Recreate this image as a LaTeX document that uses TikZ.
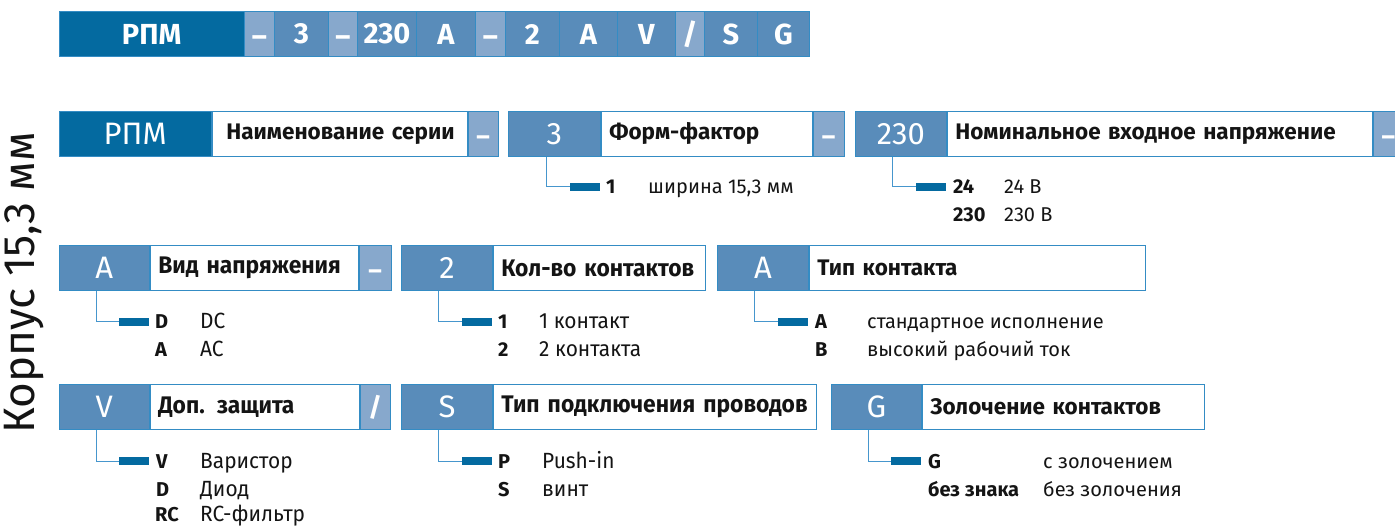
\documentclass[tikz,border=0pt]{standalone}
\usepackage{fontspec}
\setmainfont{Fira Sans}
\newfontfamily\narrowfont[FakeStretch=0.95]{Fira Sans}
\usetikzlibrary{positioning}
\definecolor{rpmblue}{RGB}{4,106,160}
\definecolor{codeblue}{RGB}{89,140,186}
\definecolor{dashblue}{RGB}{135,168,204}
\definecolor{frameblue}{RGB}{52,140,196}
\definecolor{linkblue}{RGB}{70,150,205}
\definecolor{ink}{RGB}{20,20,20}
\newcommand{\lowdash}{\raisebox{-12pt}[0pt][0pt]{–}}
\begin{document}
\begin{tikzpicture}[x=1pt, y=-1pt,
			box/.style={rectangle, draw=frameblue, line width=0.9pt, inner sep=0pt, minimum height=45pt, anchor=north west},
			topbox/.style={box, minimum height=45.5pt, text=white, font=\fontsize{29}{31}\selectfont\bfseries},
			codebox/.style={box, fill=codeblue, text=white, font=\fontsize{31}{33}\selectfont},
			dashbox/.style={box, fill=dashblue, text=white, font=\fontsize{26}{28}\selectfont\bfseries},
			labelbox/.style={box, fill=white, text=ink, inner xsep=8pt, align=left, font=\fontsize{22.5}{26}\selectfont\bfseries},
			narrowlabel/.style={labelbox, font=\fontsize{24}{26}\narrowfont\bfseries},
			keybar/.style={rectangle, fill=rpmblue, minimum width=30pt, minimum height=8pt, inner sep=0pt, anchor=east},
			link/.style={draw=linkblue, line width=1pt},
			key/.style={anchor=base west, inner sep=0pt, text=ink, font=\fontsize{20}{24}\selectfont\bfseries},
			desc/.style={anchor=base west, inner sep=0pt, text=ink, font=\fontsize{20}{24}\selectfont},
			narrowdesc/.style={desc, font=\fontsize{22}{24}\narrowfont},
		]
		\useasboundingbox (0,0) rectangle (1395,526);
		% code line on top
		\foreach \txt/\xa/\xb/\col [count=\i] in {РПМ/58.5/244/rpmblue, \lowdash/244/274/dashblue, 3/274/328/codeblue, \lowdash/328/357/dashblue, 230/357/416/codeblue, A/416/475/codeblue, \lowdash/475/505/dashblue, 2/505/559/codeblue, A/559/617/codeblue, V/617/675/codeblue, {/}/675/704/dashblue, S/704/757/codeblue, G/757/809/codeblue}
			\node[topbox, fill=\col, minimum width={(\xb-\xa)*1pt}] (top\i) at (\xa,11) {\txt};
		% side text
		\node[rotate=90, text=ink, font=\fontsize{44}{46}\selectfont] (side) at (24,283) {Корпус 15,3 мм};
		% row 1
		\node[codebox, fill=rpmblue, minimum width=152.5pt] (crpm) at (58.5,111) {РПМ};
		\node[labelbox, text width=239pt, right=0pt of crpm] (lrpm) {\hspace*{6pt}Наименование серии};
		\node[dashbox, minimum width=30pt, right=0pt of lrpm] (drpm) {\lowdash};
		\node[codebox, minimum width=92pt] (cform) at (508,111) {3};
		\node[labelbox, text width=195pt, right=0pt of cform] (lform) {Форм-фактор};
		\node[dashbox, minimum width=31pt, right=0pt of lform] (dform) {\lowdash};
		\node[codebox, minimum width=91pt] (cvolt) at (855,111) {230};
		\node[labelbox, text width=409pt, right=0pt of cvolt] (lvolt) {Номинальное входное напряжение};
		\node[dashbox, minimum width=30pt, right=0pt of lvolt] (dvolt) {\lowdash};
		\node[keybar] (bform) at (600,187) {};
		\draw[link] ([xshift=-8pt]cform.south) |- (bform.west);
		\node[key] (kform1) at (606,194) {1};
		\node[desc] (tform1) at (648,194) {ширина 15,3 мм};
		\node[keybar] (bvolt) at (946,187) {};
		\draw[link] ([xshift=-8pt]cvolt.south) |- (bvolt.west);
		\node[key] (kvolt1) at (953,194) {24};
		\node[desc] (tvolt1) at (1004,194) {24 В};
		\node[key] (kvolt2) at (953,222) {230};
		\node[desc] (tvolt2) at (1004,222) {230 В};
		% row 2
		\node[codebox, minimum width=90.5pt] (ctype) at (58.5,245) {A};
		\node[narrowlabel, text width=192pt, right=0pt of ctype] (ltype) {Вид напряжения};
		\node[dashbox, minimum width=32pt, right=0pt of ltype] (dtype) {\lowdash};
		\node[codebox, minimum width=91pt] (cnum) at (401,245) {2};
		\node[narrowlabel, text width=196pt, right=0pt of cnum] (lnum) {Кол-во контактов};
		\node[codebox, minimum width=91pt] (ccont) at (717,245) {A};
		\node[labelbox, text width=320pt, right=0pt of ccont] (lcont) {Тип контакта};
		\node[keybar] (btype) at (149,322) {};
		\draw[link] ([xshift=-8pt]ctype.south) |- (btype.west);
		\node[key] (ktype1) at (155,329) {D};
		\node[narrowdesc] (ttype1) at (200,329) {DC};
		\node[key] (ktype2) at (155,357) {A};
		\node[narrowdesc] (ttype2) at (200,357) {AC};
		\node[keybar] (bnum) at (492,322) {};
		\draw[link] ([xshift=-8pt]cnum.south) |- (bnum.west);
		\node[key] (knum1) at (498,329) {1};
		\node[narrowdesc] (tnum1) at (539,329) {1 контакт};
		\node[key] (knum2) at (498,357) {2};
		\node[narrowdesc] (tnum2) at (539,357) {2 контакта};
		\node[keybar] (bcont) at (808,322) {};
		\draw[link] ([xshift=-8pt]ccont.south) |- (bcont.west);
		\node[key] (kcont1) at (815,329) {A};
		\node[desc] (tcont1) at (867,329) {стандартное исполнение};
		\node[key] (kcont2) at (815,357) {B};
		\node[desc] (tcont2) at (867,357) {высокий рабочий ток};
		% row 3
		\node[codebox, minimum width=90.5pt] (cprot) at (58.5,384) {V};
		\node[narrowlabel, text width=193pt, right=0pt of cprot] (lprot) {Доп. защита};
		\node[dashbox, minimum width=30pt, right=0pt of lprot] (dprot) {/};
		\node[codebox, minimum width=91pt] (cwire) at (401,384) {S};
		\node[narrowlabel, text width=307pt, right=0pt of cwire] (lwire) {Тип подключения проводов};
		\node[codebox, minimum width=90pt] (cgold) at (831,384) {G};
		\node[labelbox, text width=266pt, right=0pt of cgold] (lgold) {Золочение контактов};
		\node[keybar] (bprot) at (149,461) {};
		\draw[link] ([xshift=-8pt]cprot.south) |- (bprot.west);
		\node[key] (kprot1) at (156,468) {V};
		\node[narrowdesc] (tprot1) at (200,468) {Варистор};
		\node[key] (kprot2) at (156,496) {D};
		\node[narrowdesc] (tprot2) at (200,496) {Диод};
		\node[key] (kprot3) at (155,521) {RC};
		\node[narrowdesc] (tprot3) at (200,521) {RC-фильтр};
		\node[keybar] (bwire) at (492,461) {};
		\draw[link] ([xshift=-8pt]cwire.south) |- (bwire.west);
		\node[key] (kwire1) at (498,468) {P};
		\node[narrowdesc] (twire1) at (542,468) {Push-in};
		\node[key] (kwire2) at (498,496) {S};
		\node[narrowdesc] (twire2) at (542,496) {винт};
		\node[keybar] (bgold) at (921,461) {};
		\draw[link] ([xshift=-8pt]cgold.south) |- (bgold.west);
		\node[key] (kgold1) at (928,468) {G};
		\node[desc] (tgold1) at (1043,468) {с золочением};
		\node[key] (kgold2) at (928,496) {без знака};
		\node[desc] (tgold2) at (1043,496) {без золочения};
\end{tikzpicture}
\end{document}
